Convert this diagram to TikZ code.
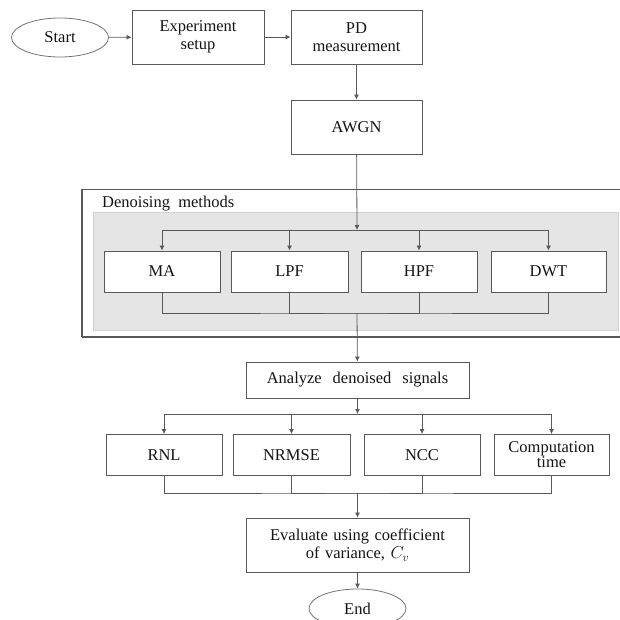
\documentclass[tikz,border=0pt]{standalone}
\usepackage{fontspec}
\setmainfont{Liberation Serif}
\usetikzlibrary{shapes.geometric,arrows.meta}
\begin{document}
\begin{tikzpicture}[x=1pt,y=-1pt,
  every node/.style={font=\fontsize{16.5}{18}\selectfont, text=black!92},
  box/.style={draw=black!65, line width=0.9pt, fill=white, align=center,
              inner sep=0pt, text width=#1-4pt},
  box/.default=120pt,
  term/.style={draw=black!55, line width=0.8pt, ellipse, fill=white,
               minimum width=97pt, minimum height=39pt, inner sep=0pt},
  conn/.style={draw=black!65, line width=0.8pt},
  arr/.style={conn, -{Latex[length=5pt,width=5pt]}}]
\useasboundingbox (0,0) rectangle (620,620);

% denoising stage frame
\draw[black!65, line width=1.4pt] (82,189.5) -- (630,189.5);
\draw[black!65, line width=1.4pt] (82,337) -- (630,337);
\draw[black!65, line width=1.4pt] (82,189.5) -- (82,337);
\fill[black!10] (93,212) rectangle (618,330);
\draw[black!18, line width=0.8pt] (93,212) rectangle (618,330);
\node[anchor=west, inner sep=0pt] (dmlabel) at (102,204) {Denoising\ \ methods};

% top row
\node[term] (start) at (60,37.5) {Start};
\node[box=136pt, minimum height=54pt] (setup) at (198,37) {Experiment\\setup};
\node[box=135pt, minimum height=54pt] (pd) at (356.5,37) {PD\\measurement};
\node[box=135pt, minimum height=54pt] (awgn) at (356.5,127) {AWGN};

% denoising methods
\node[box=120pt, minimum height=41pt] (ma)  at (162,271.5) {MA};
\node[box=121pt, minimum height=41pt] (lpf) at (289.5,271.5) {LPF};
\node[box=120pt, minimum height=41pt] (hpf) at (419,271.5) {HPF};
\node[box=119pt, minimum height=41pt] (dwt) at (548.5,271.5) {DWT};

% analysis
\node[box=227pt, minimum height=36pt] (analyze) at (357.5,380) {Analyze\ \ denoised\ \ signals};
\node[box=120pt, minimum height=41pt] (rnl)   at (164,455) {RNL};
\node[box=121pt, minimum height=41pt] (nrmse) at (291.5,455) {NRMSE};
\node[box=120pt, minimum height=41pt] (ncc)   at (422,455) {NCC};
\node[box=119pt, minimum height=41pt] (comp)  at (551.5,455) {Computation\\[-3pt]time};
\node[box=227pt, minimum height=54pt] (eval) at (357.5,545) {Evaluate using coefficient\\of variance, $C_v$};
\node[term] (end) at (357.5,608.5) {End};

% split / merge points
\coordinate (s1) at (357,230);
\coordinate (m1) at (357,313);
\coordinate (s2) at (357.5,414);
\coordinate (m2) at (357.5,493);

% connectors
\draw[arr] (start) -- (setup);
\draw[arr] (setup) -- (pd);
\draw[arr] (pd) -- (awgn);
\draw[arr] (awgn) -- (s1);
\draw[conn] (ma.north |- s1) -- (dwt.north |- s1);
\foreach \n in {ma,lpf,hpf,dwt} \draw[arr] (\n.north |- s1) -- (\n.north);
\draw[conn] (ma.south) |- (m1) -| (dwt.south);
\draw[conn] (lpf.south) |- (m1) -| (hpf.south);
\draw[arr] (m1) -- (analyze);
\draw[arr] (analyze) -- (s2);
\draw[conn] (rnl.north |- s2) -- (comp.north |- s2);
\foreach \n in {rnl,nrmse,ncc,comp} \draw[arr] (\n.north |- s2) -- (\n.north);
\draw[conn] (rnl.south) |- (m2) -| (comp.south);
\draw[conn] (nrmse.south) |- (m2) -| (ncc.south);
\draw[arr] (m2) -- (eval);
\draw[arr] (eval) -- (end);
\end{tikzpicture}
\end{document}
